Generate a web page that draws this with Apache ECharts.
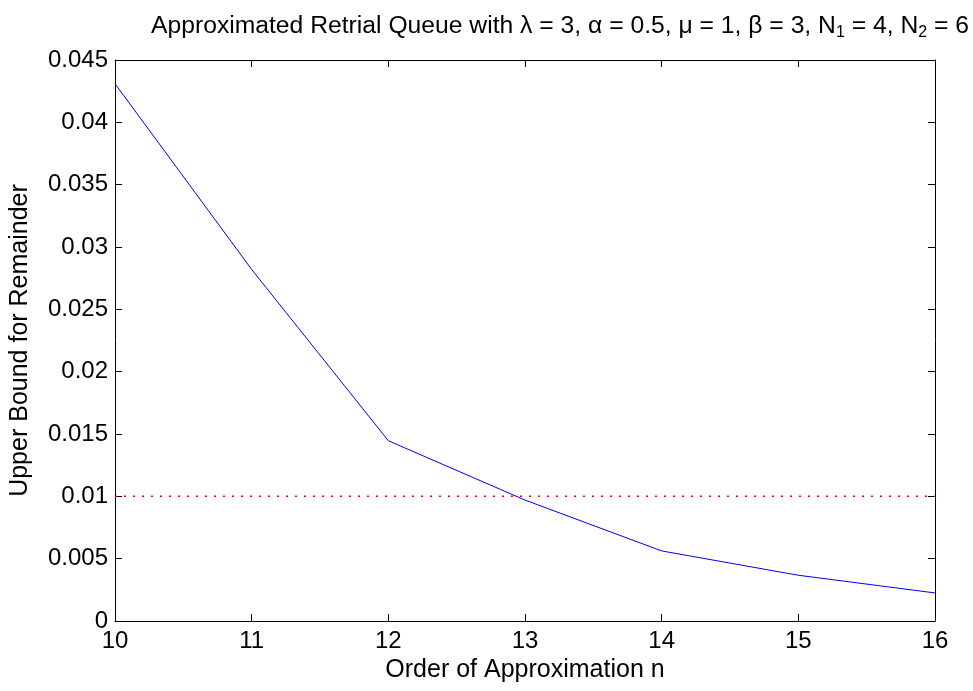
<!DOCTYPE html>
<html lang="en">
<head>
    <meta charset="UTF-8">
    <title>Approximated Retrial Queue</title>
    <script src="https://cdn.jsdelivr.net/npm/echarts@6/dist/echarts.min.js"></script>
    <style>
        body { margin: 0; background: #ffffff; }
        #chart { width: 973px; height: 691px; }
    </style>
</head>
<body>
    <div id="chart"></div>
    <script>
        // order of approximation n and the upper bound for the remainder
        let orders = [10, 11, 12, 13, 14, 15, 16];
        let bounds = [0.0431, 0.0282, 0.01446, 0.0097, 0.00562, 0.00367, 0.00225];
        // tolerance level drawn as a red dotted line
        let tolerance = 0.01;
        let xTicks = [10, 11, 12, 13, 14, 15, 16];
        let yTicks = [0, 0.005, 0.01, 0.015, 0.02, 0.025, 0.03, 0.035, 0.04, 0.045];

        let font = '"Liberation Sans", Arial, sans-serif';
        let lineData = orders.map((n, i) => [n, bounds[i]]);
        let tolData = [[orders[0], tolerance], [orders[orders.length - 1], tolerance]];

        let tickFmt = v => parseFloat(v.toFixed(4)).toString();

        let frameX = {
            type: 'value',
            min: xTicks[0],
            max: xTicks[xTicks.length - 1],
            interval: 1,
            axisLine: { show: true, onZero: false, lineStyle: { color: '#000', width: 1 } },
            axisTick: { show: true, inside: true, length: 7, lineStyle: { color: '#000' } },
            splitLine: { show: false }
        };
        let frameY = {
            type: 'value',
            min: yTicks[0],
            max: yTicks[yTicks.length - 1],
            interval: 0.005,
            axisLine: { show: true, onZero: false, lineStyle: { color: '#000', width: 1 } },
            axisTick: { show: true, inside: true, length: 7, lineStyle: { color: '#000' } },
            splitLine: { show: false }
        };

        let option = {
            backgroundColor: '#ffffff',
            animation: false,
            title: {
                left: 146,
                top: 7,
                text: 'Approximated Retrial Queue with λ = 3, α = 0.5, μ = 1, β = 3, N{sub|1} = 4, N{sub|2} = 6',
                textStyle: {
                    color: '#000',
                    fontSize: 24.7,
                    fontWeight: 'normal',
                    fontFamily: font,
                    rich: {
                        sub: { fontSize: 16, fontFamily: font, color: '#000', verticalAlign: 'bottom', padding: [13, 0, 0, 0] }
                    }
                }
            },
            grid: { left: 115, right: 38, top: 60, bottom: 70 },
            xAxis: [
                Object.assign({}, frameX, {
                    position: 'bottom',
                    name: 'Order of Approximation n',
                    nameLocation: 'middle',
                    nameGap: 35,
                    nameTextStyle: { color: '#000', fontSize: 25, fontFamily: font },
                    axisLabel: { color: '#000', fontSize: 24, fontFamily: font, margin: 8 }
                }),
                Object.assign({}, frameX, {
                    position: 'top',
                    axisLabel: { show: false }
                })
            ],
            yAxis: [
                Object.assign({}, frameY, {
                    position: 'left',
                    name: 'Upper Bound for Remainder',
                    nameLocation: 'middle',
                    nameGap: 82,
                    nameTextStyle: { color: '#000', fontSize: 25, fontFamily: font },
                    axisLabel: { color: '#000', fontSize: 24, fontFamily: font, margin: 7, formatter: tickFmt }
                }),
                Object.assign({}, frameY, {
                    position: 'right',
                    axisLabel: { show: false }
                })
            ],
            series: [
                {
                    name: 'bound',
                    type: 'line',
                    symbol: 'none',
                    lineStyle: { color: '#0000ff', width: 1 },
                    data: lineData
                },
                {
                    name: 'tolerance',
                    type: 'line',
                    symbol: 'none',
                    lineStyle: { color: '#ff0000', width: 1.5, type: [2, 7] },
                    data: tolData
                }
            ]
        };

        let chart = echarts.init(document.getElementById('chart'));
        chart.setOption(option);
    </script>
</body>
</html>
